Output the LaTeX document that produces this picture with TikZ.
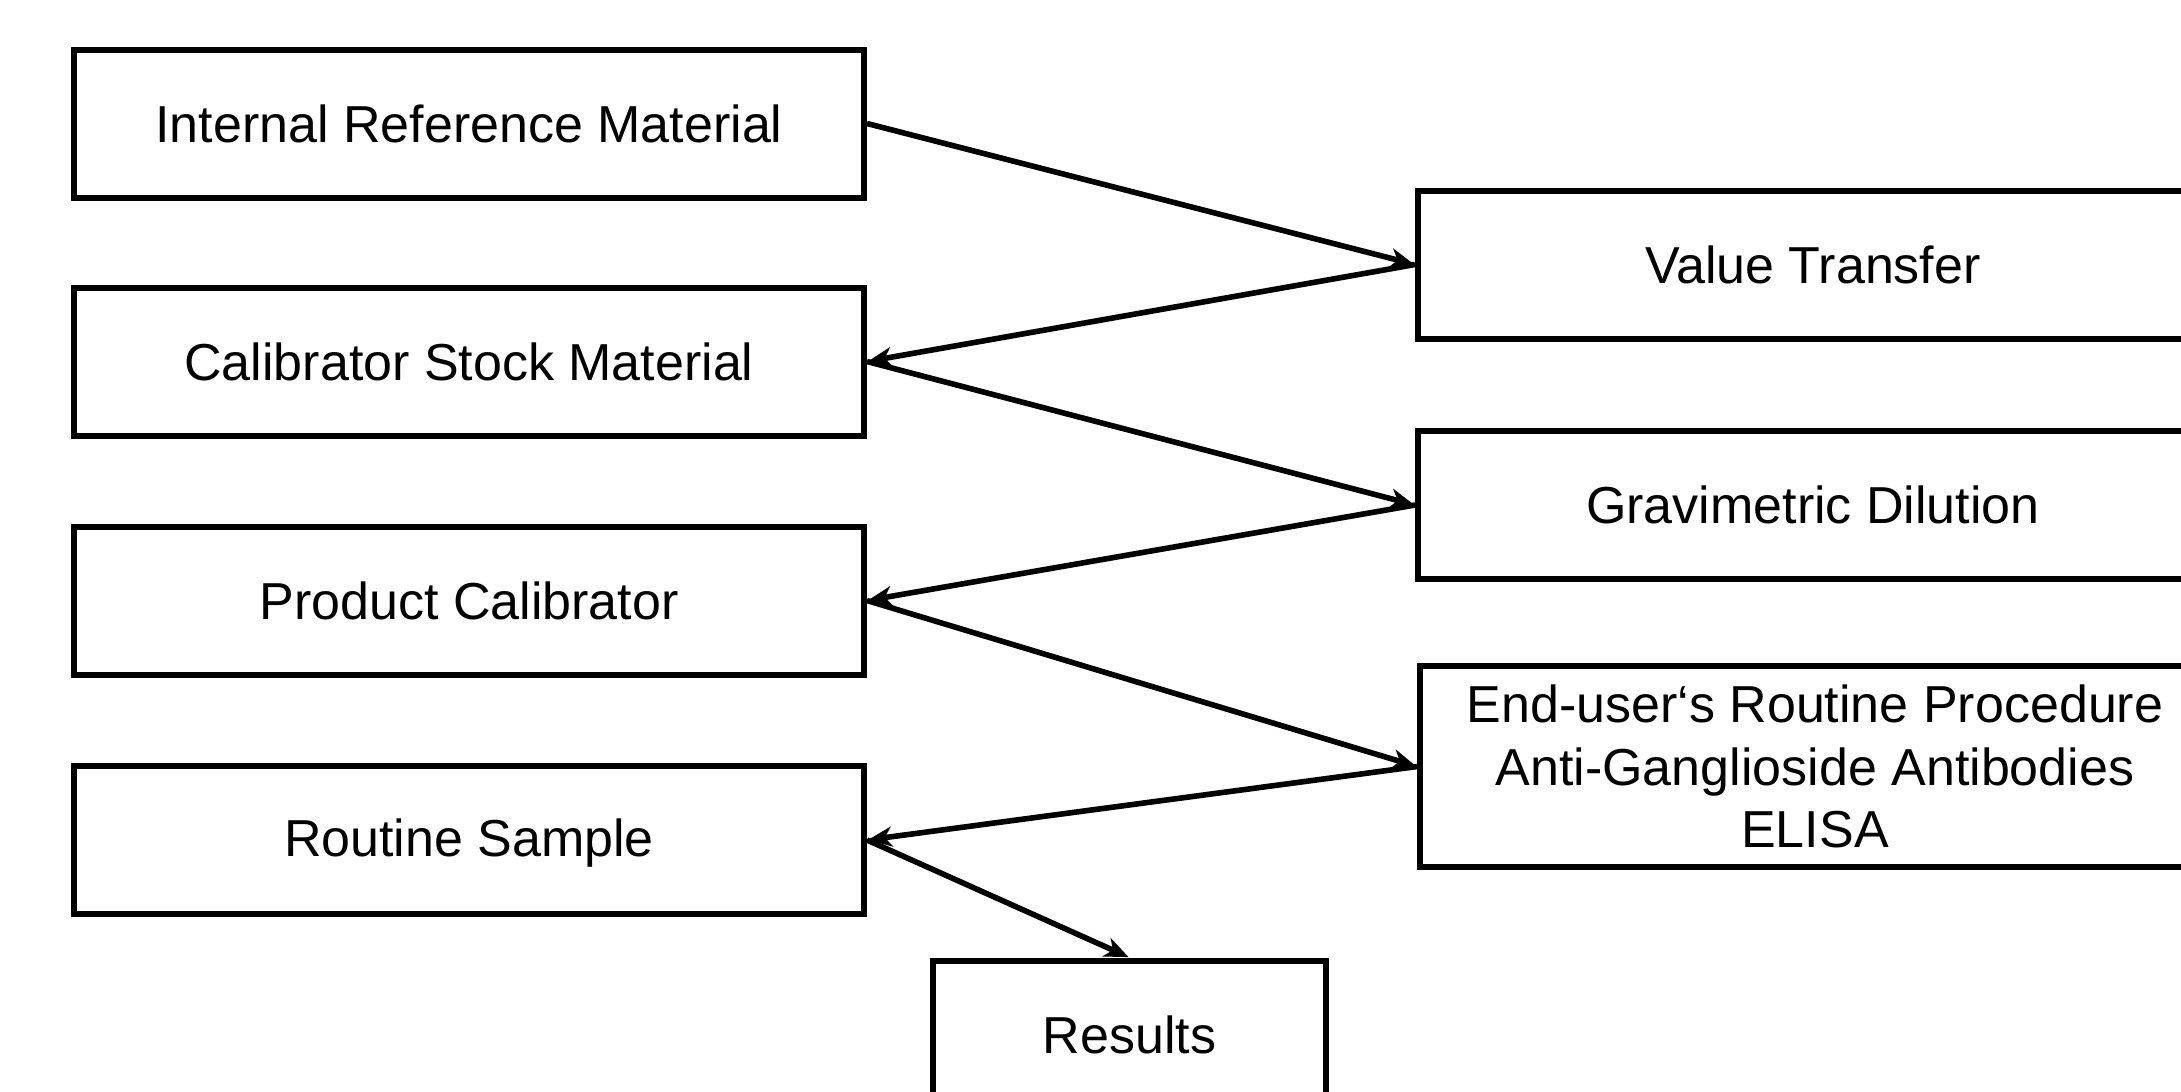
\documentclass[tikz,border=0pt]{standalone}
\usepackage{fontspec}
\setmainfont{Liberation Sans}
\usetikzlibrary{arrows.meta}
\tikzset{
  box/.style={draw=black, line width=3pt, rectangle, minimum width=395pt, minimum height=74pt, inner sep=0pt, align=center, font=\fontsize{26}{31.3}\selectfont},
  conn/.style={line width=2.8pt, -{Stealth[length=12pt,width=10pt,inset=3.5pt]}, shorten >=0.5pt}
}
\begin{document}
\begin{tikzpicture}[x=0.5pt,y=-0.5pt]
\useasboundingbox (0,0) rectangle (2181,1092);
\clip (0,0) rectangle (2181,1092);
\node[box] (irm) at (469,123.5) {Internal Reference Material};
\node[box] (csm) at (469,361.5) {Calibrator Stock Material};
\node[box] (pc) at (469,600.5) {Product Calibrator};
\node[box, text height=19pt, text depth=3pt] (rs) at (469,840) {Routine Sample};
\node[box] (vt) at (1813,264.5) {Value Transfer};
\node[box] (gd) at (1813,505) {Gravimetric Dilution};
\node[box, minimum height=100.5pt] (eu) at (1815,766.5) {End-user‘s Routine Procedure\\Anti-Ganglioside Antibodies\\ELISA};
\node[box, minimum width=196.5pt] (res) at (1129.5,1034.5) {Results};
\draw[conn] (irm.east) -- (vt.west);
\draw[conn] (vt.west) -- (csm.east);
\draw[conn] (csm.east) -- (gd.west);
\draw[conn] (gd.west) -- (pc.east);
\draw[conn] (pc.east) -- (eu.west);
\draw[conn] (eu.west) -- (rs.east);
\draw[conn] (rs.east) -- (res.north);
\end{tikzpicture}
\end{document}
